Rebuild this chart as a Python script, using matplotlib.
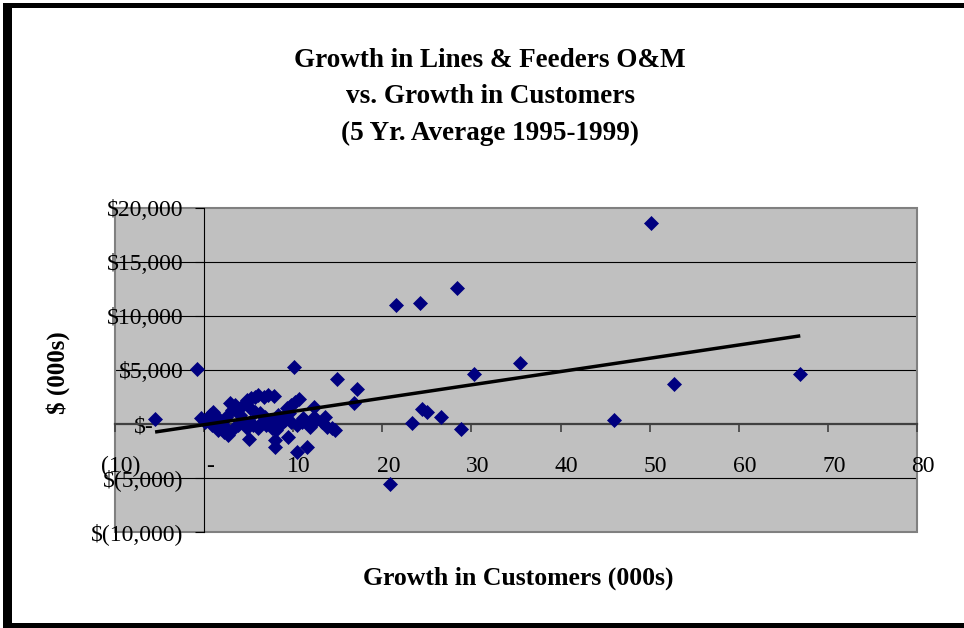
import numpy as np
import matplotlib.pyplot as plt
import matplotlib.transforms as mtransforms
from matplotlib.patches import Rectangle
from matplotlib.ticker import FuncFormatter

plt.rcParams['font.family'] = ['Liberation Serif', 'DejaVu Serif']

# growth in customers (000s) and growth in O&M ($000s), one entry per utility
cust_growth = [
    -5.5, -0.8, 10.1, 14.9, 17.2, 16.8, 20.9, 21.5, 24.2, 28.4, 50.2, 66.9,
    52.7, 46.0, 35.4, 30.3, 23.3, 24.4, 25.0, 26.6, 28.8,
    -0.3, 0.1, 0.7, 1.0, 1.4, 0.9, 1.6, 2.2, 2.7, 2.4, 2.0, 2.5, 3.1, 3.5,
    2.9, 3.7, 4.0, 4.4, 3.8, 3.3, 4.4, 4.8, 5.3, 5.7, 6.1, 6.7, 7.2, 7.8,
    5.2, 5.7, 6.3, 6.8, 7.4, 8.0, 5.5, 6.1, 4.8, 5.2, 6.5, 7.0, 7.6, 8.1,
    8.5, 8.7, 8.3, 9.1, 9.5, 9.8, 10.2, 10.6, 9.3, 9.8, 10.4, 11.0, 11.5,
    11.9, 11.1, 12.3, 12.6, 13.2, 13.6, 13.8, 14.3, 14.7, 12.3,
    5.0, 8.0, 8.0, 9.4, 10.4, 11.6,
]
om_growth = [
    460, 5100, 5270, 4170, 3230, 1960, -5560, 11050, 11170, 12620, 18640, 4660,
    3700, 370, 5620, 4660, 60, 1360, 1140, 680, -430,
    530, 220, 830, 1140, 680, -90, -560, -710, -1020, -250, 220, 680, 1300, 1760,
    1910, 1450, 830, 370, -90, -400, 1760, 2220, 2380, 2530, 2690, 2530, 2690, 2590,
    1450, 1140, 990, 680, 370, 60, -90, -400, -400, 220, 220, -90, -400, -560,
    -90, 530, 830, 370, 990, 1760, 2070, 2280, 1450, 220, -90, 220, 60,
    -250, 530, 680, 370, 220, 680, -250, -400, -560, 1600,
    -1420, -1480, -2100, -1240, -2620, -2160,
]

# linear trend line (Excel trendline)
trend_slope = 123.0
trend_intercept = -65.0

x_ticks = np.arange(-10, 81, 10)
y_ticks = np.arange(-10000, 20001, 5000)


def dollars(v, pos=None):
    if v == 0:
        return '$-'
    if v < 0:
        return '$({:,.0f})'.format(-v)
    return '${:,.0f}'.format(v)


def plain(v, pos=None):
    if v == 0:
        return '-'
    if v < 0:
        return '({:.0f})'.format(-v)
    return '{:.0f}'.format(v)


W, H = 964, 628
fig = plt.figure(figsize=(W / 100, H / 100), dpi=100)
fig.patch.set_facecolor('white')

ax = fig.add_axes([115 / W, 1 - 532 / H, (917 - 115) / W, (532 - 208) / H])
ax.set_facecolor('#c0c0c0')
ax.set_xlim(-10, 80)
ax.set_ylim(-10000, 20000)

ax.spines['left'].set_position(('data', 0))
ax.spines['bottom'].set_position(('data', 0))
ax.spines['left'].set_color('black')
ax.spines['left'].set_linewidth(0.8)
ax.spines['bottom'].set_color('#404040')
ax.spines['bottom'].set_linewidth(1.6)
ax.spines['top'].set_visible(False)
ax.spines['right'].set_visible(False)
ax.add_patch(Rectangle((0, 0), 1, 1, transform=ax.transAxes, fill=False,
                       ec='#808080', lw=1.5, clip_on=False, zorder=1.5))

for v in y_ticks[1:-1]:
    if v != 0:
        ax.axhline(v, color='black', lw=0.8, zorder=1)

ax.set_xticks(x_ticks)
ax.set_yticks(y_ticks)
ax.xaxis.set_major_formatter(FuncFormatter(plain))
ax.yaxis.set_major_formatter(FuncFormatter(dollars))
ax.tick_params(axis='y', direction='out', length=6.5, width=0.8, pad=8.5,
               labelsize=17, colors='black')
ax.tick_params(axis='x', direction='out', length=6, width=1.2, pad=17,
               labelsize=17, color='#404040', labelcolor='black')

# nudge the x labels right, and the zero dollar label left
shift_x = mtransforms.ScaledTranslation(6 / 100, 0, fig.dpi_scale_trans)
for lbl in ax.get_xticklabels():
    lbl.set_transform(lbl.get_transform() + shift_x)
shift_zero = mtransforms.ScaledTranslation(-30 / 100, 0, fig.dpi_scale_trans)
ylbls = ax.get_yticklabels()
ylbls[list(y_ticks).index(0)].set_transform(
    ylbls[list(y_ticks).index(0)].get_transform() + shift_zero)

ax.plot(cust_growth, om_growth, 'D', ms=7, color='#000080', mec='#000080',
        mew=0.5, zorder=3, clip_on=False)

tx = np.array([min(cust_growth), max(cust_growth)])
ax.plot(tx, trend_slope * tx + trend_intercept, color='black', lw=2.5,
        zorder=4, solid_capstyle='butt')

fig.text(490 / W, 1 - 97 / H,
         'Growth in Lines & Feeders O&M\nvs. Growth in Customers\n(5 Yr. Average 1995-1999)',
         ha='center', va='center', fontsize=19.5, fontweight='bold',
         linespacing=1.58)
fig.text(518 / W, 1 - 578 / H, 'Growth in Customers (000s)', ha='center',
         va='center', fontsize=18.5, fontweight='bold')
fig.text(58 / W, 1 - 373 / H, '$ (000s)', ha='center', va='center',
         rotation=90, fontsize=18, fontweight='bold')

# heavy frame round the chart
for x0, y0, w, h in [(3, 0, 9, 625), (3, 620, 961, 5), (3, 0, 961, 5)]:
    fig.add_artist(Rectangle((x0 / W, y0 / H), w / W, h / H,
                             transform=fig.transFigure, color='black', lw=0))

fig.savefig('out.png', dpi=100)
